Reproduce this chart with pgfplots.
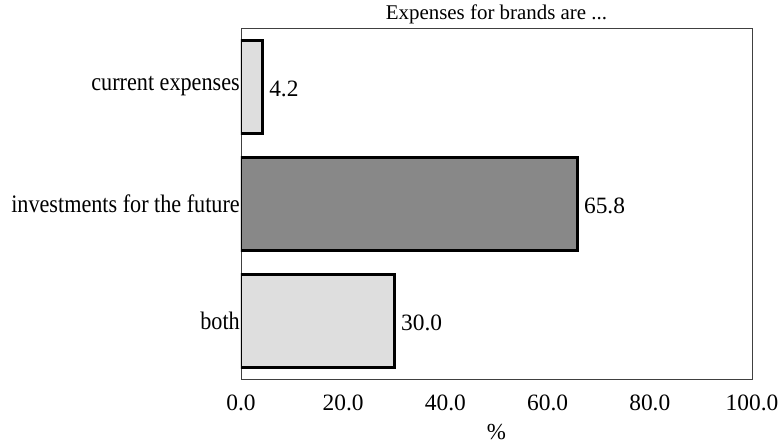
\documentclass[border=0pt]{standalone}
\usepackage{fontspec}
\setmainfont{Liberation Serif}
\newfontfamily\catfont[FakeStretch=0.88]{Liberation Serif}
\usepackage{pgfplots}
\pgfplotsset{compat=1.18}
\definecolor{lightbar}{HTML}{DEDEDE}
\definecolor{darkbar}{HTML}{888888}
\begin{document}
\begin{tikzpicture}
\useasboundingbox (-241bp,-67bp) rectangle (539bp,379bp);
\begin{axis}[
  at={(0,0)}, anchor=south west,
  scale only axis, width=511bp, height=351bp,
  xbar, bar shift=0pt, bar width=93bp,
  xmin=0, xmax=100, ymin=-0.5, ymax=2.5,
  y dir=reverse,
  ytick={0,1,2},
  yticklabels={current expenses, investments for the future, both},
  xtick={0,20,40,60,80,100},
  major tick length=0pt,
  axis line style={black!75, line width=0.8bp},
  /pgf/number format/assume math mode=true,
  /pgf/number format/.cd, fixed, fixed zerofill, precision=1, /pgfplots/.cd,
  xticklabel style={font=\fontsize{23.5}{23.5}\selectfont, yshift=-12bp},
  yticklabel style={font=\catfont\fontsize{25.3}{25.3}\selectfont, inner sep=1bp},
  xlabel={\%}, xlabel style={font=\fontsize{23}{23}\selectfont, yshift=-7bp},
  title={Expenses for brands are ...},
  title style={font=\fontsize{21}{21}\selectfont, yshift=-5bp},
  nodes near coords,
  nodes near coords style={font=\fontsize{23.5}{23.5}\selectfont, anchor=west, xshift=2bp, yshift=-2bp,
    /pgf/number format/.cd, fixed, fixed zerofill, precision=1},
  every axis plot/.append style={draw=black, line width=3bp},
]
\addplot[fill=lightbar] coordinates {(4.2,0)};
\addplot[fill=darkbar] coordinates {(65.8,1)};
\addplot[fill=lightbar] coordinates {(30.0,2)};
\end{axis}
\end{tikzpicture}
\end{document}
